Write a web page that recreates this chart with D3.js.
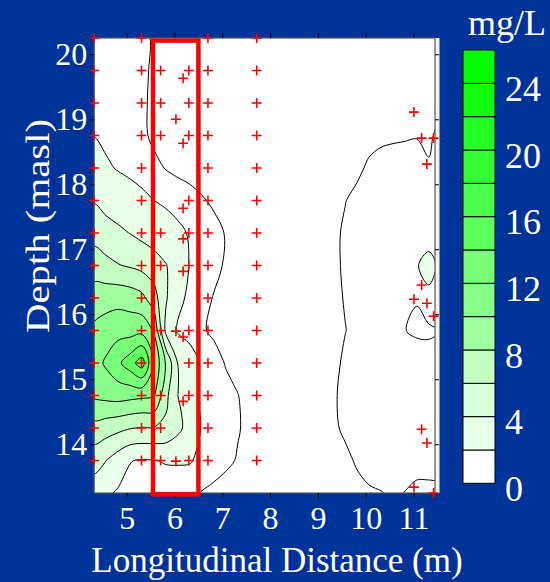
<!DOCTYPE html>
<html>
<head>
<meta charset="utf-8">
<script src="https://cdnjs.cloudflare.com/ajax/libs/d3/7.8.5/d3.min.js"></script>
<style>
  body { margin: 0; background: #003399; }
  svg { display: block; }
  text { font-family: "Liberation Serif", "Times New Roman", serif; fill: #fff; }
</style>
</head>
<body>
<div id="chart"></div>
<script>
// axis ticks and colour legend
const xTicks = [5, 6, 7, 8, 9, 10, 11];
const yTicks = [14, 15, 16, 17, 18, 19, 20];
const legendTicks = [0, 4, 8, 12, 16, 20, 24];
const fillLevels = [2, 4, 6, 8, 10, 12, 14, 16, 18, 20, 22, 24];
const lineLevels = [1, 2, 4, 6, 8, 10, 12, 14, 16, 18, 20, 22, 24];
const bandColors = ["#ffffff", "#e8ffe8", "#d8ffd8", "#c0ffc0", "#a0ffa0", "#88ff88", "#77ff77",
                    "#5cff5c", "#4aff4a", "#33ff33", "#22ff22", "#10ff10", "#00ff00"];

// concentration grid (mg/L): columns every 0.25 m from 4.32 m,
// rows every 0.5 m of depth from 20.25 masl down to 13.25 masl
const gridX0 = 4.32, gridDx = 0.25, gridY0 = 20.25, gridDy = 0.5;
const concGrid = [
  [1.5,1.5,1.45,1.4,1.3,0.85,0.6,0.5,0.45,0.4, 0.4,0.4,0.4,0.4,0.4,0.4,0.4,0.4,0.4,0.4, 0.4,0.4,0.4,0.45,0.45,0.5,0.5,0.5,0.5,0.5],
  [1.55,1.5,1.45,1.4,1.25,0.8,0.6,0.5,0.45,0.4, 0.4,0.4,0.4,0.4,0.4,0.4,0.4,0.4,0.4,0.4, 0.4,0.4,0.45,0.45,0.5,0.5,0.55,0.6,0.55,0.55],
  [1.7,1.6,1.5,1.4,1.2,0.75,0.6,0.5,0.45,0.4, 0.4,0.4,0.4,0.4,0.4,0.4,0.4,0.4,0.4,0.4, 0.4,0.45,0.45,0.45,0.5,0.55,0.6,0.7,0.6,0.6],
  [1.95,1.7,1.5,1.35,1.2,0.8,0.6,0.5,0.45,0.45, 0.45,0.45,0.45,0.45,0.45,0.45,0.45,0.45,0.45,0.5, 0.55,0.6,0.65,0.7,0.8,0.85,0.9,0.95,0.7,1.5],
  [2.9,2.2,1.9,1.7,1.5,1.25,0.95,0.75,0.6,0.5, 0.5,0.5,0.5,0.5,0.5,0.5,0.5,0.5,0.5,0.5, 0.6,0.7,0.8,1.15,1.35,1.45,1.45,1.4,1.15,1.5],
  [3.85,3.2,2.9,2.6,2.3,2.0,1.8,1.6,1.4,1.1, 0.85,0.7,0.6,0.55,0.5,0.5,0.5,0.5,0.5,0.6, 0.75,0.97,1.25,1.4,1.45,1.5,1.5,1.45,1.4,1.5],
  [5.3,4.9,4.4,3.95,3.5,3.0,2.6,2.25,1.9,1.6, 1.3,0.95,0.8,0.7,0.6,0.55,0.5,0.5,0.5,0.6, 0.8,1.13,1.35,1.45,1.5,1.5,1.5,1.45,1.2,1.4],
  [7.0,6.5,6.1,5.8,5.4,4.9,4.1,3.0,1.9,1.6, 1.25,0.9,0.75,0.65,0.6,0.55,0.5,0.5,0.5,0.6, 0.8,1.13,1.35,1.45,1.5,1.5,1.5,1.9,2.6,1.6],
  [8.97,9.2,9.3,9.1,8.5,6.8,4.2,2.4,1.7,1.35, 0.95,0.8,0.7,0.6,0.55,0.5,0.5,0.5,0.5,0.6, 0.8,1.05,1.3,1.4,1.45,1.45,1.3,1.05,1.6,1.4],
  [10.4,10.9,11.3,11.2,11.35,9.8,3.5,1.8,1.5,1.1, 0.85,0.75,0.65,0.6,0.55,0.5,0.5,0.5,0.5,0.6, 0.8,0.98,1.2,1.35,1.4,1.3,1.02,0.85,0.85,1.0],
  [11.2,12.3,13.6,15.1,17.0,11.8,7.8,3.9,2.7,1.8, 1.35,0.95,0.8,0.7,0.6,0.55,0.5,0.5,0.5,0.6, 0.8,1.13,1.35,1.45,1.5,1.5,1.45,1.5,1.4,1.4],
  [10.3,10.6,10.8,10.6,10.4,10.2,6.5,4.0,2.4,1.8, 1.5,1.25,1.02,0.8,0.65,0.55,0.5,0.5,0.5,0.7, 0.9,1.2,1.35,1.45,1.5,1.5,1.5,1.45,1.4,1.4],
  [7.3,6.9,6.5,6.1,5.9,5.9,5.6,4.5,3.2,1.9, 1.7,1.4,1.05,0.85,0.7,0.6,0.5,0.5,0.5,0.7, 0.85,1.15,1.35,1.45,1.45,1.45,1.45,1.4,1.4,1.4],
  [4.7,4.0,3.0,2.05,1.9,1.95,2.1,2.12,2.1,1.7, 1.4,1.15,0.95,0.8,0.7,0.6,0.5,0.5,0.5,0.6, 0.7,0.8,1.1,1.3,1.4,1.4,1.35,1.3,1.3,1.3],
  [3.0,2.3,1.8,1.6,1.5,1.4,1.3,1.3,1.2,0.95, 0.8,0.7,0.6,0.55,0.5,0.5,0.5,0.5,0.5,0.5, 0.55,0.6,0.75,0.9,0.97,1.1,0.98,0.8,0.8,0.8]
];

// sampling points (red crosses): [distance m, depth masl]
const gridColumns = [4.32, 5.31, 5.71, 6.30, 6.70, 7.72];
const gridDepths = [20.25, 19.75, 19.25, 18.75, 18.25, 17.75, 17.25, 16.75, 16.25, 15.75, 15.25, 14.75, 14.25, 13.75];
const missingSamples = ["5.71|20.25", "5.71|18.25", "5.71|17.75", "5.71|16.25", "5.71|15.25",
                        "6.3|20.25", "6.3|18.25", "6.3|16.25", "6.3|14.25"];
const extraSamples = [
  [6.18, 19.63], [6.03, 19.0], [6.18, 18.63], [6.18, 17.63], [6.18, 17.16], [6.18, 16.66],
  [6.03, 15.74], [6.18, 15.65], [6.18, 14.66], [6.03, 13.74],
  [11.01, 19.11], [11.17, 18.71], [11.42, 18.71], [11.28, 18.31], [11.17, 16.45], [11.01, 16.23],
  [11.28, 16.17], [11.42, 15.97], [11.17, 14.23], [11.28, 14.02], [11.01, 13.34], [11.42, 13.25]
];
const highlightBox = {x: [5.55, 6.5], depth: [13.23, 20.21]};

const width = 550, height = 582;
const svg = d3.select("#chart").append("svg")
    .attr("width", width)
    .attr("height", height);

svg.append("rect").attr("width", width).attr("height", height).attr("fill", "#003399");

const xScale = d3.scaleLinear().domain([4.32, 11.45]).range([94.2, 435]);
const yScale = d3.scaleLinear().domain([13.25, 20.25]).range([493, 38]);
const plotL = xScale.range()[0], plotR = xScale.range()[1];
const plotT = yScale.range()[1], plotB = yScale.range()[0];

svg.append("clipPath").attr("id", "plotClip")
  .append("rect")
    .attr("x", plotL).attr("y", plotT)
    .attr("width", plotR - plotL).attr("height", plotB - plotT);

const plot = svg.append("g").attr("clip-path", "url(#plotClip)");
plot.append("rect")
    .attr("x", plotL).attr("y", plotT)
    .attr("width", plotR - plotL).attr("height", plotB - plotT)
    .attr("fill", bandColors[0]);

// contours
const nx = concGrid[0].length, ny = concGrid.length;
const values = concGrid.flat();

const ringLine = d3.line()
    .x(p => xScale(gridX0 + (p[0] - 0.5) * gridDx))
    .y(p => yScale(gridY0 - (p[1] - 0.5) * gridDy))
    .curve(d3.curveCatmullRomClosed.alpha(0.5));

function contourPath(mp) {
    return mp.coordinates
        .map(poly => poly.map(ring => ringLine(ring.slice(0, -1))).join(""))
        .join("");
}

const fills = d3.contours().size([nx, ny]).smooth(true).thresholds(fillLevels)(values);
plot.selectAll(".band").data(fills).enter()
  .append("path")
    .attr("class", "band")
    .attr("d", contourPath)
    .attr("fill-rule", "evenodd")
    .attr("fill", (d, i) => bandColors[i + 1]);

const lines = d3.contours().size([nx, ny]).smooth(true).thresholds(lineLevels)(values);
plot.selectAll(".iso").data(lines).enter()
  .append("path")
    .attr("class", "iso")
    .attr("d", contourPath)
    .attr("fill", "none")
    .attr("stroke", "#000")
    .attr("stroke-width", 1);

// white strip on the right side of the frame
svg.append("rect")
    .attr("x", plotR).attr("y", plotT)
    .attr("width", 4.5).attr("height", plotB - plotT)
    .attr("fill", "#f4f4f4");

// frame and axes
svg.append("rect")
    .attr("x", plotL).attr("y", plotT)
    .attr("width", plotR - plotL).attr("height", plotB - plotT)
    .attr("fill", "none").attr("stroke", "#555").attr("stroke-width", 1.2);

function styleAxis(g) {
    g.select(".domain").remove();
    g.attr("color", "#000");
    g.selectAll("text")
        .style("font-family", '"Liberation Serif", "Times New Roman", serif')
        .style("font-size", "32px")
        .style("fill", "#fff");
}

svg.append("g").attr("transform", `translate(0,${plotB})`)
    .call(d3.axisBottom(xScale).tickValues(xTicks).tickSize(5).tickPadding(8).tickFormat(d3.format("d")))
    .call(styleAxis);
svg.append("g").attr("transform", `translate(0,${plotT})`)
    .call(d3.axisTop(xScale).tickValues(xTicks).tickSize(5).tickFormat(""))
    .call(styleAxis);
svg.append("g").attr("transform", `translate(${plotL},0)`)
    .call(d3.axisLeft(yScale).tickValues(yTicks).tickSize(4).tickPadding(3).tickFormat(d3.format("d")))
    .call(styleAxis);
svg.append("g").attr("transform", `translate(${plotR},0)`)
    .call(d3.axisRight(yScale).tickValues(yTicks).tickSize(4).tickFormat(""))
    .call(styleAxis);

// sample crosses
const samples = [];
gridColumns.forEach(x => gridDepths.forEach(d => {
    if (!missingSamples.includes(x + "|" + d)) samples.push([x, d]);
}));
extraSamples.forEach(s => samples.push(s));

svg.append("g").selectAll("path").data(samples).enter()
  .append("path")
    .attr("transform", d => `translate(${xScale(d[0])},${yScale(d[1])})`)
    .attr("d", "M-5,0H5M0,-5V5")
    .attr("stroke", "#ff0000")
    .attr("stroke-width", 1.6);

// highlighted section
svg.append("rect")
    .attr("x", xScale(highlightBox.x[0]))
    .attr("y", yScale(highlightBox.depth[1]))
    .attr("width", xScale(highlightBox.x[1]) - xScale(highlightBox.x[0]))
    .attr("height", yScale(highlightBox.depth[0]) - yScale(highlightBox.depth[1]))
    .attr("fill", "none")
    .attr("stroke", "#ff0000")
    .attr("stroke-width", 4.5);

// axis titles
svg.append("text")
    .attr("x", 277).attr("y", 572)
    .attr("text-anchor", "middle")
    .style("font-size", "35px")
    .text("Longitudinal Distance (m)");
svg.append("text")
    .attr("transform", "translate(49,226) rotate(-90) scale(1.2,1)")
    .attr("text-anchor", "middle")
    .style("font-size", "34px")
    .text("Depth (masl)");

// colour legend
const legendScale = d3.scaleLinear().domain([0, 26]).range([483.3, 50]);
const legend = svg.append("g");
legend.selectAll("rect").data(bandColors).enter()
  .append("rect")
    .attr("x", 463)
    .attr("y", (d, i) => legendScale(2 * i + 2))
    .attr("width", 32)
    .attr("height", (d, i) => legendScale(2 * i) - legendScale(2 * i + 2))
    .attr("fill", d => d)
    .attr("stroke", "#000")
    .attr("stroke-width", 1);
legend.selectAll("text").data(legendTicks).enter()
  .append("text")
    .attr("x", 505)
    .attr("y", d => legendScale(d) + 5)
    .attr("dy", "0.35em")
    .style("font-size", "36px")
    .text(d => d);
svg.append("text")
    .attr("x", 468).attr("y", 35)
    .style("font-size", "36px")
    .text("mg/L");
</script>
</body>
</html>
